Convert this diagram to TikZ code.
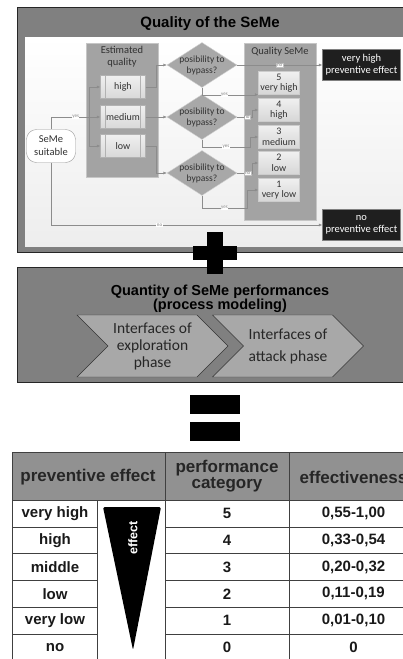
\documentclass[tikz,border=0pt]{standalone}
\usepackage{fontspec}
\setmainfont{Liberation Sans}
\newfontfamily\flowfont{Carlito}
\usetikzlibrary{arrows.meta, positioning, shapes.geometric, shapes.symbols}

\definecolor{panelgray}{RGB}{128,128,128}
\definecolor{groupgray}{RGB}{163,163,163}
\definecolor{itemgray}{RGB}{208,208,208}
\definecolor{diagray}{RGB}{168,168,168}
\definecolor{phasegray}{RGB}{168,168,168}
\definecolor{headgray}{RGB}{145,145,145}
\definecolor{flowtext}{RGB}{50,50,50}

\begin{document}
\begin{tikzpicture}[
    x=1pt, y=-1pt,
    panel/.style={draw=black!85, line width=0.8pt, fill=panelgray},
    group/.style={draw=gray!45, fill=groupgray},
    grouptitle/.style={
        font=\flowfont\fontsize{10.5}{12}\selectfont,
        text=flowtext,
        align=center
    },
    item/.style={
        draw=gray!60,
        top color=gray!12,
        bottom color=gray!30,
        minimum width=45,
        minimum height=23,
        inner sep=0pt,
        font=\flowfont\fontsize{10}{11}\selectfont,
        text=flowtext,
        path picture={
            \draw[gray!60] ([xshift=5pt]path picture bounding box.north west)
                -- ([xshift=5pt]path picture bounding box.south west);
            \draw[gray!60] ([xshift=-5pt]path picture bounding box.north east)
                -- ([xshift=-5pt]path picture bounding box.south east);
        }
    },
    decision/.style={
        diamond,
        aspect=1.55,
        fill=diagray,
        draw=gray!35,
        minimum width=70,
        minimum height=45,
        inner sep=-4pt,
        align=center,
        font=\flowfont\fontsize{9.5}{11}\selectfont,
        text=flowtext
    },
    startbox/.style={
        draw=gray!80,
        fill=white,
        rounded corners=10pt,
        minimum width=49,
        minimum height=33,
        inner sep=0pt,
        align=center,
        font=\flowfont\fontsize{10.5}{13}\selectfont,
        text=flowtext
    },
    result/.style={
        draw=gray!40,
        top color=gray!12,
        bottom color=gray!32,
        minimum width=41,
        minimum height=23,
        inner sep=0pt,
        align=center,
        font=\flowfont\fontsize{10}{10.5}\selectfont,
        text=flowtext
    },
    effectbox/.style={
        draw=gray,
        fill=black!88,
        text=white,
        minimum width=78,
        minimum height=31,
        inner sep=0pt,
        align=center,
        font=\flowfont\fontsize{10.5}{12}\selectfont
    },
    conn/.style={draw=gray!90, -{Latex[length=3.5pt, width=3pt]}},
    yeslbl/.style={
        font=\flowfont\fontsize{5}{5}\selectfont,
        text=gray,
        fill=white,
        inner sep=0.4pt
    },
    nolbl/.style={yeslbl, draw=gray!50, inner sep=0.6pt},
    phase/.style={
        signal,
        signal to=east,
        signal from=west,
        signal pointer angle=90,
        draw=black!80,
        fill=phasegray,
        minimum width=151,
        minimum height=62,
        inner sep=0pt,
        align=center,
        font=\flowfont\fontsize{15.5}{17}\selectfont,
        text=black!85
    },
    tabline/.style={draw=black!75, line width=0.7pt},
    headcell/.style={font=\bfseries\fontsize{17}{16}\selectfont, align=center, text=black!85},
    cell/.style={font=\bfseries\fontsize{15}{15}\selectfont, text=black!90}
]
\clip (0,0) rectangle (403,659);

% quality panel
\draw[panel] (17,7) rectangle (412,252);
\shade[top color=white, bottom color=gray!14] (25,37) rectangle (412,246);
\node[font=\bfseries\fontsize{15}{15}\selectfont] (qtitle) at (210,24) {Quality of the SeMe};

\node[group, minimum width=72, minimum height=134] (estq) at (122,110) {};
\node[grouptitle] (estqtitle) at (122,57) {Estimated\\quality};
\node[item] (high) at (123,87) {high};
\node[item] (med) at (123,117) {medium};
\node[item] (low) at (123,146) {low};

\node[group, minimum width=72, minimum height=177] (qsem) at (280,131.5) {};
\node[grouptitle] (qsemtitle) at (280,52) {Quality SeMe};
\node[result] (q5) at (279,83) {5\\very high};
\node[result] (q4) at (279,110) {4\\high};
\node[result] (q3) at (279,137) {3\\medium};
\node[result] (q2) at (279,163) {2\\low};
\node[result] (q1) at (279,190) {1\\very low};

\node[startbox] (suit) at (51,146) {SeMe\\suitable};

\node[decision] (d1) at (202,65) {posibility to\\bypass?};
\node[decision] (d2) at (202,117) {posibility to\\bypass?};
\node[decision] (d3) at (202,173) {posibility to\\bypass?};

\node[effectbox] (vhigh) at (361.5,65) {very high\\preventive effect};
\node[effectbox] (noeff) at (361.5,225) {no\\preventive effect};

\coordinate (split) at (89,117);

\draw[conn] (suit.north) |- node[yeslbl, pos=0.75] {yes} (med.west);
\draw[conn] (split) |- (high.west);
\draw[conn] (split) |- (low.west);
\draw[conn] (high.east) -- ++(10,0) |- (d1.west);
\draw[conn] (med.east) -- (d2.west);
\draw[conn] (low.east) -- ++(10,0) |- (d3.west);

\draw[conn] (d1.east) -- node[nolbl] {no} (vhigh.west);
\draw[conn] (d1.south) |- node[yeslbl, pos=0.7] {yes} (q5.south west);
\draw[conn] (d2.east) -- node[nolbl, pos=0.65] {no} ++(15,0) |- (q4.west);
\draw[conn] (d2.south) -- ++(0,7) -- node[yeslbl] {yes} ++(48,0) |- (q3.west);
\draw[conn] (d3.east) -- node[nolbl, pos=0.7] {no} ++(15,0) |- (q2.west);
\draw[conn] (d3.south) -- ++(0,12) -- node[yeslbl] {yes} ++(45,0) |- (q1.west);
\draw[conn] (suit.south) |- node[yeslbl, pos=0.7] {no} (noeff.west);

% quantity panel
\draw[panel] (17,267) rectangle (412,382);
\node[font=\bfseries\fontsize{14.5}{14}\selectfont, align=center] (ntitle) at (220,299)
    {Quantity of SeMe performances\\(process modeling)};
\node[phase] (explore) at (152.5,346) {Interfaces of\\exploration\\phase};
\node[phase] (attack) at (288,346) {Interfaces of\\[5pt]attack phase};

% plus
\fill[black] (207,232) rectangle (223,274);
\fill[black] (193,246) rectangle (237,260);

% equals
\fill[black] (190,395) rectangle (240,414);
\fill[black] (190,422) rectangle (240,441);

% effect table
\fill[headgray] (12,452) rectangle (418,500);
\draw[tabline] (12,452) rectangle (418,661);
\draw[tabline] (12,500) -- (418,500);
\draw[tabline] (97,500) -- (97,661);
\draw[tabline] (165,452) -- (165,661);
\draw[tabline] (289,452) -- (289,661);
\foreach \ly in {527,553.5,580,607,634} {
    \draw[tabline] (12,\ly) -- (97,\ly);
    \draw[tabline] (165,\ly) -- (418,\ly);
}

\node[headcell] (hprev) at (88,477) {preventive effect};
\node[headcell] (hcat) at (227,476) {performance\\category};
\node[headcell] (heff) at (353.5,477) {effectiveness};

\fill[black, rounded corners=1.5pt] (103,507) -- (161,507) -- (133,650) -- cycle;
\node[rotate=90, text=white, font=\bfseries\fontsize{12.5}{12.5}\selectfont] (efflbl) at (133,538) {effect};

\foreach \lvl/\cat/\eff [count=\i, evaluate=\i as \ry using 500+26.8*(\i-0.5)] in
    {very high/5/{0,55-1,00}, high/4/{0,33-0,54}, middle/3/{0,20-0,32},
     low/2/{0,11-0,19}, very low/1/{0,01-0,10}, no/0/0} {
    \node[cell] (lvl\i) at (55,\ry) {\lvl};
    \node[cell] (cat\i) at (227,\ry) {\cat};
    \node[cell] (eff\i) at (353.5,\ry) {\eff};
}
\end{tikzpicture}
\end{document}
